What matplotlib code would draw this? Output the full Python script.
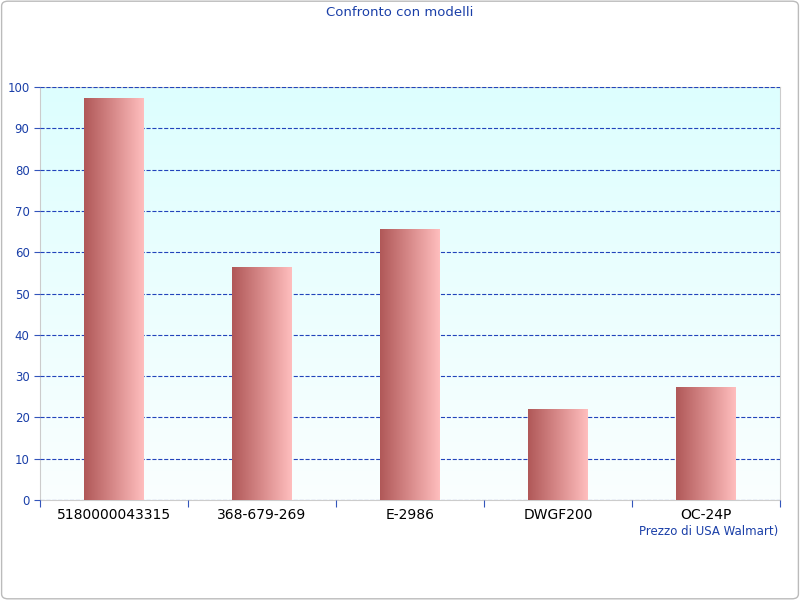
import matplotlib
matplotlib.use("Agg")
import matplotlib.pyplot as plt
import numpy as np
from matplotlib.patches import FancyBboxPatch
from matplotlib.colors import LinearSegmentedColormap

models = ["5180000043315", "368-679-269", "E-2986", "DWGF200", "OC-24P"]
prices = [97.5, 56.5, 65.7, 22.0, 27.3]

blue = "#1a3fa8"
fig = plt.figure(figsize=(8, 6), dpi=100)
fig.patches.append(FancyBboxPatch((0.002, 0.002), 0.996, 0.996, boxstyle="round,pad=0,rounding_size=0.008",
                                  transform=fig.transFigure, fill=False, ec="#bbbbbb", lw=1))
ax = fig.add_axes([0.05, 0.1667, 0.925, 0.688])
ax.set_xlim(-0.5, len(models) - 0.5)
ax.set_ylim(0, 100)

# background gradient
bg = LinearSegmentedColormap.from_list("bg", ["#fafefe", "#ddffff"])
ax.imshow(np.linspace(0, 1, 256).reshape(-1, 1), cmap=bg, aspect="auto", origin="lower",
          extent=(-0.5, len(models) - 0.5, 0, 100), zorder=0)

barcmap = LinearSegmentedColormap.from_list("bar", ["#b05858", "#d88a8a", "#ffbebe"])
grad = np.linspace(0, 1, 256).reshape(1, -1)
bars = ax.bar(range(len(models)), prices, width=0.4, color="none", zorder=3)
for b in bars:
    x0, w, h = b.get_x(), b.get_width(), b.get_height()
    im = ax.imshow(grad, cmap=barcmap, aspect="auto", extent=(x0, x0 + w, 0, h), zorder=3)
    im.set_clip_path(b)

ax.set_yticks(range(0, 101, 10))
ax.yaxis.grid(True, linestyle="--", color="#2244bb", lw=0.8)
ax.set_axisbelow(False)
for ln in ax.get_ygridlines():
    ln.set_zorder(1)
ax.set_xticks(np.arange(-0.5, len(models), 1.0))
ax.set_xticklabels([])
ax.set_xticks(range(len(models)), minor=True)
ax.set_xticklabels(models, minor=True)
ax.tick_params(axis="x", which="minor", length=0, pad=6)
ax.tick_params(axis="x", which="major", length=5, color="#3355bb")
ax.tick_params(axis="y", length=4, color="#3355bb")
ax.tick_params(labelsize=8.5, labelcolor=blue)
for s in ax.spines.values():
    s.set_color("#cccccc")

fig.text(0.5, 0.98, "Confronto con modelli", ha="center", va="center", color=blue, fontsize=9.5)
fig.text(0.973, 0.115, "Prezzo di USA Walmart)", ha="right", va="center", color=blue, fontsize=8.5)

fig.savefig("out.png")
